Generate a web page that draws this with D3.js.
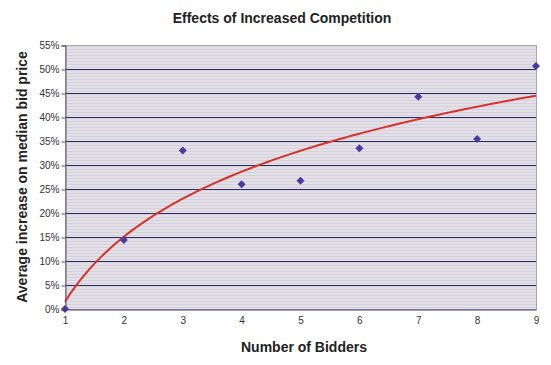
<!DOCTYPE html>
<html><head><meta charset="utf-8">
<script src="https://cdn.jsdelivr.net/npm/d3@7"></script>
<style>body{margin:0;background:#fff}svg{display:block}text{font-family:"Liberation Sans",Arial,sans-serif}</style>
</head><body><svg id="c" width="551" height="365"></svg>
<script>
const bidders = [1, 2, 3, 4, 5, 6, 7, 8, 9];
const increase = [0.0, 14.4, 33.0, 26.0, 26.7, 33.5, 44.2, 35.4, 50.6];
const yTicks = [0, 5, 10, 15, 20, 25, 30, 35, 40, 45, 50, 55];
const xTicks = [1, 2, 3, 4, 5, 6, 7, 8, 9];

const svg = d3.select("#c");
const m = {l: 65, r: 536, t: 45, b: 309};
const x = d3.scaleLinear().domain([1, 9]).range([m.l, m.r]);
const y = d3.scaleLinear().domain([0, 55]).range([m.b, m.t]);

// plot background with faint scan-like stripes
const defs = svg.append("defs");
const pat = defs.append("pattern").attr("id", "stripes").attr("patternUnits", "userSpaceOnUse").attr("width", 8).attr("height", 3);
pat.append("rect").attr("width", 8).attr("height", 3).attr("fill", "#e3e0e7");
pat.append("rect").attr("y", 1).attr("width", 8).attr("height", 1).attr("fill", "#d5d1db");
svg.append("rect").attr("x", m.l).attr("y", m.t).attr("width", m.r - m.l).attr("height", m.b - m.t).attr("fill", "url(#stripes)");

// gridlines
svg.append("g").selectAll("line").data(yTicks.filter(d => d > 0 && d < 55)).join("line")
  .attr("x1", m.l).attr("x2", m.r).attr("y1", d => Math.round(y(d)) + 0.5).attr("y2", d => Math.round(y(d)) + 0.5)
  .attr("stroke", "#2c2b62").attr("stroke-width", 1);

// border
svg.append("rect").attr("x", m.l + 0.5).attr("y", m.t + 0.5).attr("width", m.r - m.l).attr("height", m.b - m.t)
  .attr("fill", "none").attr("stroke", "#a8a6b0").attr("stroke-width", 1);

// axes
const yAxis = d3.axisLeft(y).tickValues(yTicks).tickFormat(d => d + "%").tickSize(4).tickPadding(2);
const gy = svg.append("g").attr("transform", `translate(${m.l + 0.5},0.5)`).call(yAxis);
gy.select(".domain").attr("stroke", "#555a70");
gy.selectAll(".tick line").attr("stroke", "#555a70");
gy.selectAll("text").attr("font-size", 10).attr("fill", "#333");

const xAxis = d3.axisBottom(x).tickValues(xTicks).tickFormat(d3.format("d")).tickSize(0).tickPadding(7);
const gx = svg.append("g").attr("transform", `translate(0,${m.b + 0.5})`).call(xAxis);
gx.select(".domain").attr("stroke", "#4a3f80").attr("stroke-width", 1);
gx.selectAll("text").attr("font-size", 10).attr("fill", "#333");

// logarithmic trendline (least squares on ln x)
const lx = bidders.map(Math.log);
const mx = d3.mean(lx), my = d3.mean(increase);
const a = d3.sum(lx.map((v, i) => (v - mx) * (increase[i] - my))) / d3.sum(lx.map(v => (v - mx) ** 2));
const b = my - a * mx;
const trend = d3.range(1, 9.001, 0.05).map(v => [v, a * Math.log(v) + b]);
svg.append("path").datum(trend)
  .attr("d", d3.line().x(d => x(d[0])).y(d => y(d[1])))
  .attr("fill", "none").attr("stroke", "#d8302a").attr("stroke-width", 2);

// points (square diamonds)
const r = 4;
svg.append("g").selectAll("path").data(bidders).join("path")
  .attr("transform", (d, i) => `translate(${x(d)},${y(increase[i])})`)
  .attr("d", `M0,${-r}L${r},0L0,${r}L${-r},0Z`)
  .attr("fill", "#4b3a9e");

// titles
svg.append("text").attr("x", 282).attr("y", 23).attr("text-anchor", "middle")
  .attr("font-size", 14).attr("font-weight", "bold").attr("fill", "#222").text("Effects of Increased Competition");
svg.append("text").attr("x", 304).attr("y", 352).attr("text-anchor", "middle")
  .attr("font-size", 14).attr("font-weight", "bold").attr("fill", "#222").text("Number of Bidders");
svg.append("text").attr("transform", "translate(27,177) rotate(-90)").attr("text-anchor", "middle")
  .attr("font-size", 14).attr("font-weight", "bold").attr("fill", "#222").text("Average increase on median bid price");
</script></body></html>
